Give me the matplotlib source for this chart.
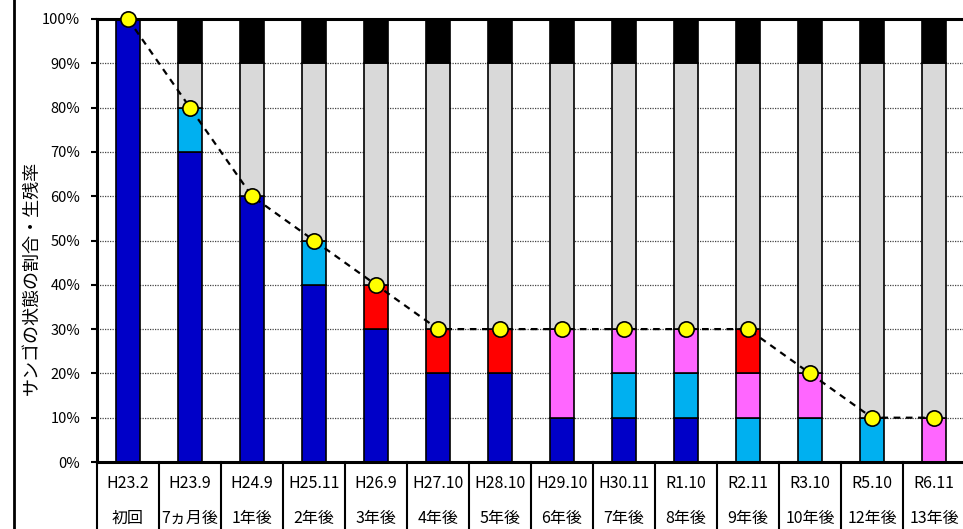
import matplotlib
matplotlib.use("Agg")
import matplotlib.pyplot as plt
from matplotlib.lines import Line2D

plt.rcParams['font.family'] = ['Noto Sans CJK JP', 'DejaVu Sans']

# Survey dates and elapsed time since the first survey
dates = ["H23.2", "H23.9", "H24.9", "H25.11", "H26.9", "H27.10", "H28.10",
         "H29.10", "H30.11", "R1.10", "R2.11", "R3.10", "R5.10", "R6.11"]
elapsed = ["初回", "7ヵ月後", "1年後", "2年後", "3年後", "4年後", "5年後",
           "6年後", "7年後", "8年後", "9年後", "10年後", "12年後", "13年後"]

# Share of coral condition (%), stacked from bottom to top
dark_blue = [100, 70, 60, 40, 30, 20, 20, 10, 10, 10, 0, 0, 0, 0]
cyan      = [0, 10, 0, 10, 0, 0, 0, 0, 10, 10, 10, 10, 10, 0]
pink      = [0, 0, 0, 0, 0, 0, 0, 20, 10, 10, 10, 10, 0, 10]
red       = [0, 0, 0, 0, 10, 10, 10, 0, 0, 0, 10, 0, 0, 0]
gray      = [0, 10, 30, 40, 50, 60, 60, 60, 60, 60, 60, 70, 80, 80]
black     = [0, 10, 10, 10, 10, 10, 10, 10, 10, 10, 10, 10, 10, 10]

# Survival rate (%)
survival = [100, 80, 60, 50, 40, 30, 30, 30, 30, 30, 30, 20, 10, 10]

series = [dark_blue, cyan, pink, red, gray, black]
colors = ["#0000C8", "#00B0F0", "#FF66FF", "#FF0000", "#D9D9D9", "#000000"]

W, H = 963, 529
fig = plt.figure(figsize=(W / 100, H / 100), dpi=100)
ax = fig.add_axes([97 / W, 1 - 462 / H, 868 / W, (462 - 19) / H])

x = list(range(len(dates)))
bottom = [0] * len(dates)
for vals, c in zip(series, colors):
    ax.bar(x, vals, width=0.4, bottom=bottom, color=c, edgecolor="black",
           linewidth=1.2, zorder=2)
    bottom = [b + v for b, v in zip(bottom, vals)]

ax.plot(x, survival, linestyle=(0, (3, 2.5)), color="black", linewidth=1.6,
        marker="o", markersize=11, markerfacecolor="#FFFF00",
        markeredgecolor="black", markeredgewidth=1.2, zorder=4, clip_on=False)

ax.set_xlim(-0.5, len(dates) - 0.5)
ax.set_ylim(0, 100)
ax.set_yticks(range(0, 101, 10))
ax.set_yticklabels([f"{v}%" for v in range(0, 101, 10)], fontsize=10.5)
ax.tick_params(axis="y", length=4, width=1.5, pad=8, direction="out")
ax.set_xticks([])
ax.yaxis.grid(True, linestyle=(0, (1, 1)), color="#444444", linewidth=0.9, zorder=0)
ax.set_axisbelow(True)

for side in ("top", "left", "bottom"):
    ax.spines[side].set_linewidth(2.2)
    ax.spines[side].set_color("black")
ax.spines["right"].set_visible(False)

fig.text(32 / W, 1 - 278 / H, "サンゴの状態の割合・生残率", rotation=90,
         ha="center", va="center", fontsize=13)

# Category table below the axis
trans = ax.get_xaxis_transform()
y_bottom_axes = -462 / (462 - 19)
for i in range(len(dates) + 1):
    ax.add_line(Line2D([i - 0.5, i - 0.5], [0, y_bottom_axes], transform=trans,
                       color="black", linewidth=1.5, clip_on=False))
row1 = -(483 - 462) / (462 - 19)
row2 = -(518 - 462) / (462 - 19)
for i, (d, e) in enumerate(zip(dates, elapsed)):
    ax.text(i, row1, d, transform=trans, ha="center", va="center", fontsize=11.5)
    ax.text(i, row2, e, transform=trans, ha="center", va="center", fontsize=11.5)

# Outer frame line on the left
fig.add_artist(Line2D([14 / W, 14 / W], [0, 1], transform=fig.transFigure,
                      color="black", linewidth=2))

fig.savefig("out.png", dpi=100)
